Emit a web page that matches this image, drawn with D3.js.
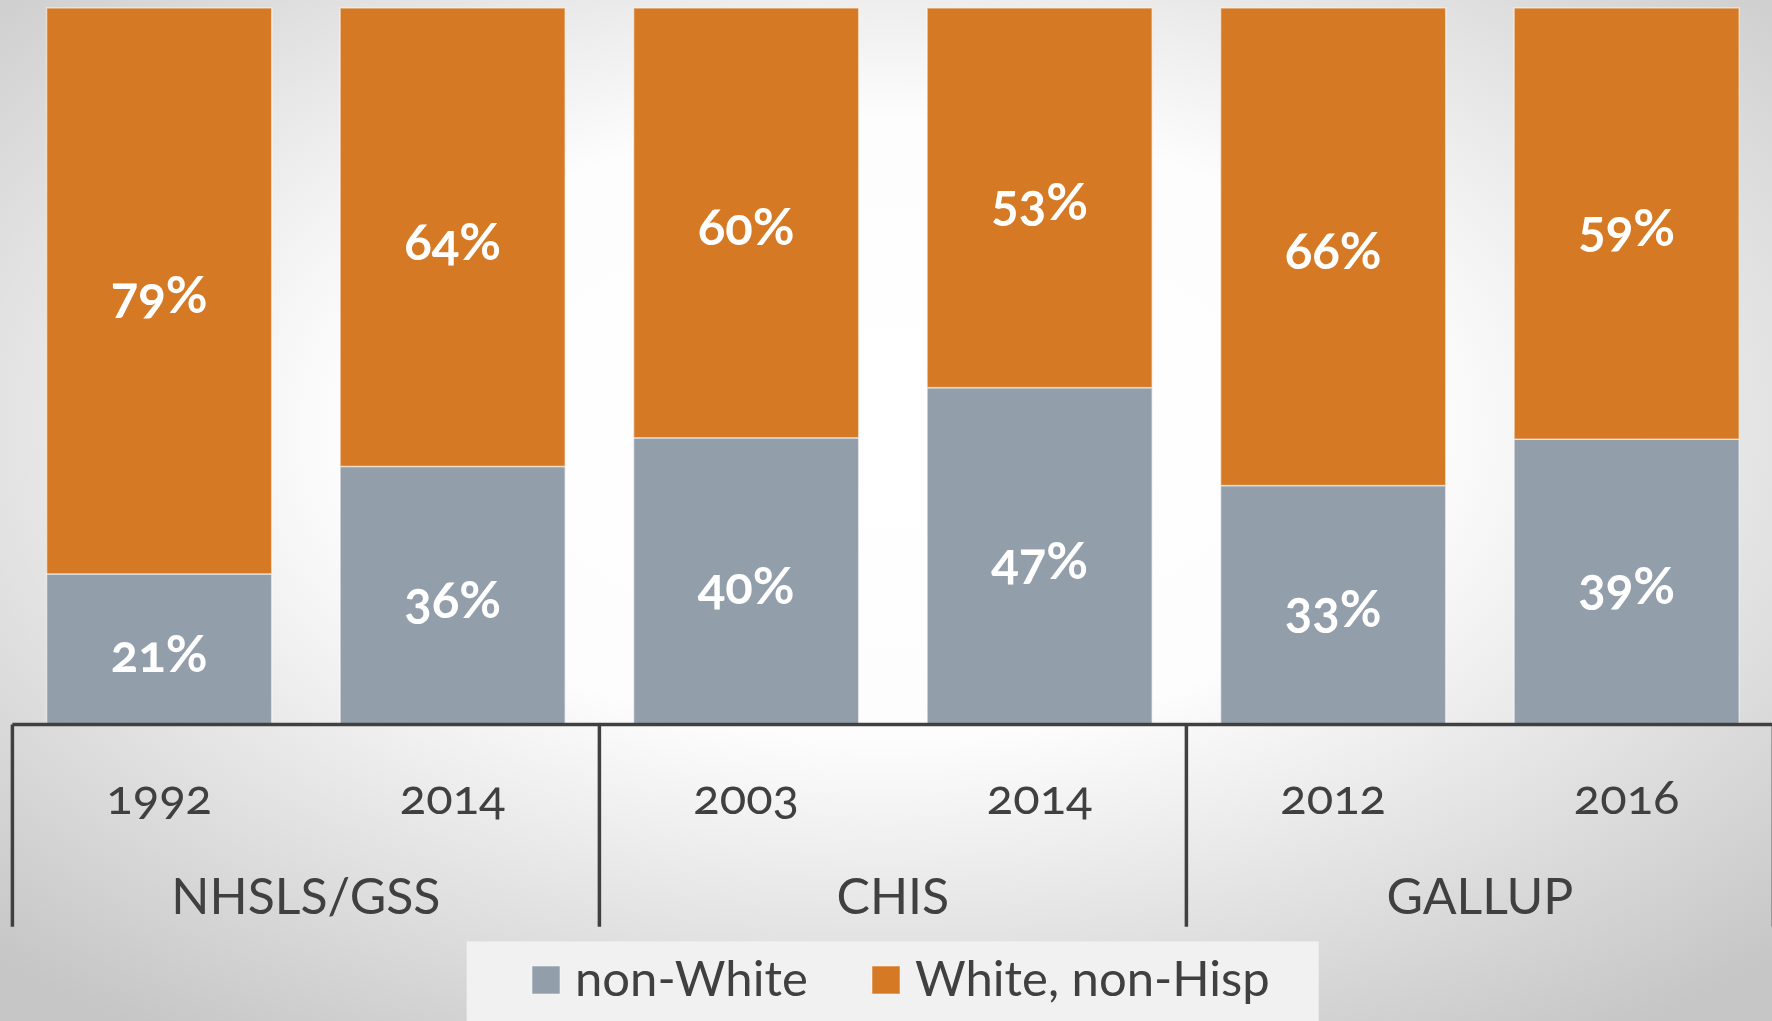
<!DOCTYPE html>
<html>
<head>
<meta charset="utf-8">
<script src="https://cdn.jsdelivr.net/npm/d3@7"></script>
<style>
  html, body { margin: 0; padding: 0; background: #ffffff; }
  svg { display: block; font-family: Lato, "Open Sans", sans-serif; }
  .num { font-variant-numeric: oldstyle-nums; }
</style>
</head>
<body>
<svg id="chart" width="1772" height="1021"></svg>
<script>
// Survey groups and the survey years shown under each bar
const groups = ["NHSLS/GSS", "CHIS", "GALLUP"];
const years = ["1992", "2014", "2003", "2014", "2012", "2016"];
const groupIndex = [0, 0, 1, 1, 2, 2];

// Share of each sample, in percent
const nonWhite = [21, 36, 40, 47, 33, 39];
const whiteNonHisp = [79, 64, 60, 53, 66, 59];

const seriesKeys = ["nonWhite", "whiteNonHisp"];
const seriesNames = ["non-White", "White, non-Hisp"];
const seriesColors = ["#939eab", "#d67924"];

const W = 1772, H = 1021;
const svg = d3.select("#chart");

// Soft radial backdrop
const defs = svg.append("defs");
const grad = defs.append("radialGradient")
  .attr("id", "bg")
  .attr("cx", 0.5).attr("cy", 0.42).attr("r", 0.72);
grad.append("stop").attr("offset", "0").attr("stop-color", "#ffffff");
grad.append("stop").attr("offset", "0.42").attr("stop-color", "#fdfdfd");
grad.append("stop").attr("offset", "1").attr("stop-color", "#c6c6c6");
svg.append("rect").attr("width", W).attr("height", H).attr("fill", "url(#bg)");

const rows = years.map((y, i) => ({
  id: i, year: y, group: groupIndex[i],
  nonWhite: nonWhite[i], whiteNonHisp: whiteNonHisp[i]
}));

const axisLeft = 12.4, axisRight = 1773.4;
const baseY = 724.4, topY = 7.9;

const x = d3.scaleBand()
  .domain(rows.map(d => d.id))
  .range([axisLeft, axisRight])
  .paddingInner(0.233)
  .paddingOuter(0.1165);

const xGroup = d3.scaleBand()
  .domain(groups)
  .range([axisLeft, axisRight]);

const y = d3.scaleLinear().domain([0, 1]).range([baseY, topY]);

const stacked = d3.stack()
  .keys(seriesKeys)
  .offset(d3.stackOffsetExpand)(rows);

// Stacked bars
const layers = svg.append("g").selectAll("g")
  .data(stacked)
  .join("g")
  .attr("fill", (d, i) => seriesColors[i]);

layers.selectAll("rect")
  .data(d => d)
  .join("rect")
  .attr("x", d => x(d.data.id))
  .attr("width", x.bandwidth())
  .attr("y", d => y(d[1]))
  .attr("height", d => y(d[0]) - y(d[1]))
  .attr("stroke", "#ffffff")
  .attr("stroke-opacity", 0.55)
  .attr("stroke-width", 1.5);

// Value labels centred in each segment
stacked.forEach((layer, li) => {
  svg.append("g").selectAll("text")
    .data(layer)
    .join("text")
    .attr("class", "num")
    .attr("x", d => x(d.data.id) + x.bandwidth() / 2)
    .attr("y", d => (y(d[0]) + y(d[1])) / 2 + 3)
    .attr("text-anchor", "middle")
    .attr("dominant-baseline", "central")
    .attr("fill", "#ffffff")
    .attr("font-weight", 700)
    .attr("font-size", 51)
    .text(d => d.data[seriesKeys[li]] + "%");
});

// Category axis: baseline, group separators, years and group names
const axisG = svg.append("g");
axisG.append("line")
  .attr("x1", axisLeft).attr("x2", W)
  .attr("y1", baseY).attr("y2", baseY)
  .attr("stroke", "#404040").attr("stroke-width", 3.5);

const sepX = groups.map(g => xGroup(g)).concat([axisRight]);
axisG.selectAll("line.sep")
  .data(sepX)
  .join("line")
  .attr("class", "sep")
  .attr("x1", d => d).attr("x2", d => d)
  .attr("y1", baseY).attr("y2", 926.7)
  .attr("stroke", "#404040").attr("stroke-width", 3.5);

axisG.selectAll("text.year")
  .data(rows)
  .join("text")
  .attr("class", "year num")
  .attr("x", d => x(d.id) + x.bandwidth() / 2)
  .attr("y", 795)
  .attr("text-anchor", "middle")
  .attr("dominant-baseline", "central")
  .attr("fill", "#404040")
  .attr("font-size", 49)
  .text(d => d.year);

axisG.selectAll("text.group")
  .data(groups)
  .join("text")
  .attr("class", "group")
  .attr("x", d => xGroup(d) + xGroup.bandwidth() / 2)
  .attr("y", 895)
  .attr("text-anchor", "middle")
  .attr("dominant-baseline", "central")
  .attr("fill", "#404040")
  .attr("font-size", 50)
  .text(d => d);

// Legend
const legend = svg.append("g");
legend.append("rect")
  .attr("x", 466.7).attr("y", 941.4)
  .attr("width", 852).attr("height", 80)
  .attr("fill", "#f1f1f1");

const legendX = [532, 872];
const items = legend.selectAll("g.item")
  .data(seriesNames)
  .join("g")
  .attr("class", "item")
  .attr("transform", (d, i) => `translate(${legendX[i]},980)`);

items.append("rect")
  .attr("x", 0).attr("y", -14)
  .attr("width", 28).attr("height", 28)
  .attr("fill", (d, i) => seriesColors[i])
  .attr("stroke", "#ffffff").attr("stroke-opacity", 0.5).attr("stroke-width", 1);

items.append("text")
  .attr("x", 43)
  .attr("y", -3)
  .attr("dominant-baseline", "central")
  .attr("fill", "#404040")
  .attr("font-size", 49)
  .text(d => d);
</script>
</body>
</html>
